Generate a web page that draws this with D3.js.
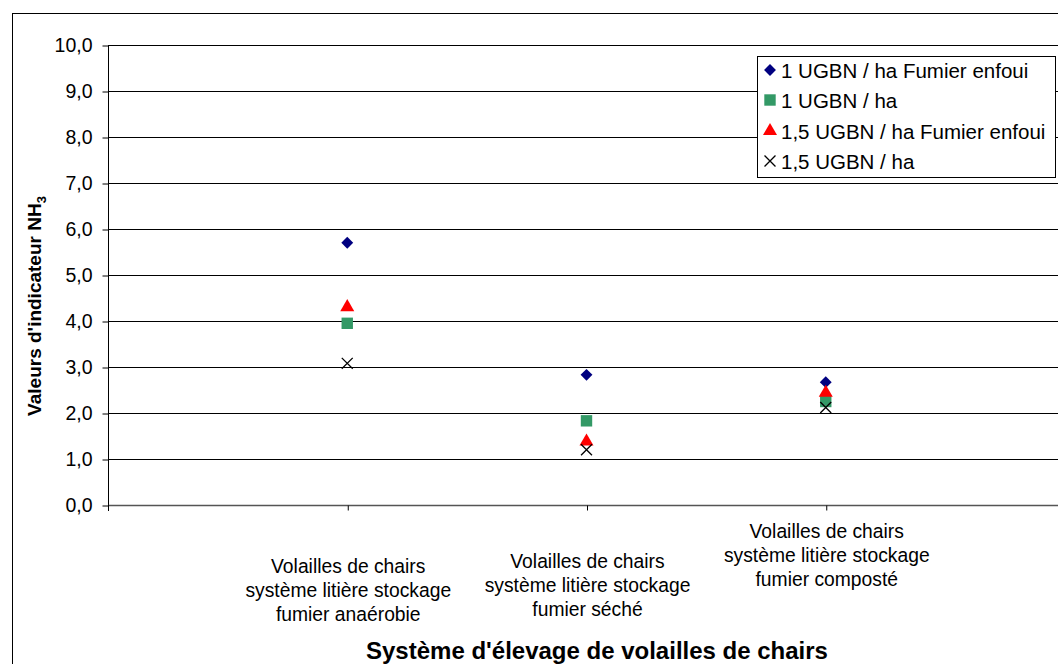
<!DOCTYPE html>
<html><head><meta charset="utf-8">
<script src="https://cdn.jsdelivr.net/npm/d3@7"></script>
<style>body{margin:0;background:#fff;} text{font-family:"Liberation Sans",Arial,sans-serif;}</style>
</head><body><svg id="c" width="1058" height="664"></svg>
<script>
const categories = [
  ["Volailles de chairs","système litière stockage","fumier anaérobie"],
  ["Volailles de chairs","système litière stockage","fumier séché"],
  ["Volailles de chairs","système litière stockage","fumier composté"]
];
const seriesNames = ["1 UGBN / ha Fumier enfoui","1 UGBN / ha","1,5 UGBN / ha Fumier enfoui","1,5 UGBN / ha"];
const s1 = [5.70, 2.83, 2.67];
const s2 = [3.95, 1.83, 2.25];
const s3 = [4.30, 1.38, 2.44];
const s4 = [3.08, 1.20, 2.12];
const yTicks = [0,1,2,3,4,5,6,7,8,9,10];
const labelOffsets = [0, -5, -35];

const svg = d3.select("#c");
const L = 108, R = 1065, T = 45, B = 505;
const x = d3.scalePoint().domain([0,1,2]).range([L,R]).padding(1);
const y = d3.scaleLinear().domain([0,10]).range([B,T]);

// outer frame
svg.append("rect").attr("x",12.5).attr("y",13.5).attr("width",1100).attr("height",700)
  .attr("fill","none").attr("stroke","#000").attr("stroke-width",1);

// gridlines
svg.append("g").selectAll("line").data(yTicks.filter(d=>d>0)).join("line")
  .attr("x1",L).attr("x2",R).attr("y1",d=>Math.round(y(d))+0.5).attr("y2",d=>Math.round(y(d))+0.5)
  .attr("stroke","#000").attr("stroke-width",1);

// y axis
const ya = svg.append("g").attr("transform",`translate(${L+0.5},0.5)`)
  .call(d3.axisLeft(y).tickValues(yTicks).tickSize(6).tickPadding(10).tickFormat(d=>d3.format(".1f")(d).replace(".",",")));
ya.select(".domain").attr("stroke","#000").attr("d",`M0,${B}V${T}`);
ya.selectAll(".tick line").attr("stroke","#000");
ya.selectAll("text").attr("font-size",19.5).attr("fill","#000").style("font-family","Liberation Sans, Arial, sans-serif");

// x axis
const xa = svg.append("g").attr("transform",`translate(0.5,${B+0.5})`)
  .call(d3.axisBottom(x).tickSize(5).tickFormat(""));
xa.select(".domain").attr("stroke","#555").attr("stroke-width",1.5).attr("d",`M${L},0H${R}`);
xa.selectAll(".tick line").attr("stroke","#000");
svg.append("line").attr("x1",L+0.5).attr("x2",L+0.5).attr("y1",B).attr("y2",B+6).attr("stroke","#000");

// category labels
categories.forEach((lines,i)=>{
  const t = svg.append("text").attr("text-anchor","middle").attr("font-size",19.3).attr("fill","#000");
  lines.forEach((ln,j)=>{
    t.append("tspan").attr("x",x(i)+1).attr("y",573+labelOffsets[i]+j*24).text(ln);
  });
});

// markers
const sym = {
  diamond: d3.symbol().type(d3.symbolDiamond2).size(90),
  square: d3.symbol().type(d3.symbolSquare).size(130),
  triangle: d3.symbol().type(d3.symbolTriangle).size(85),
  cross: d3.symbol().type(d3.symbolX).size(80)
};
const series = [
  {vals:s1, sym:sym.diamond, fill:"#000080", stroke:"none"},
  {vals:s2, sym:sym.square, fill:"#339966", stroke:"none"},
  {vals:s3, sym:sym.triangle, fill:"#FF0000", stroke:"none"},
  {vals:s4, sym:sym.cross, fill:"none", stroke:"#000"}
];
series.forEach(s=>{
  svg.append("g").selectAll("path").data(s.vals).join("path")
    .attr("transform",(d,i)=>`translate(${x(i)},${y(d)})`)
    .attr("d",s.sym()).attr("fill",s.fill).attr("stroke",s.stroke).attr("stroke-width",1.3);
});

// legend
const lg = svg.append("g");
lg.append("rect").attr("x",757.5).attr("y",56.5).attr("width",298).attr("height",121)
  .attr("fill","#fff").attr("stroke","#000");
const ly = [71, 101, 132, 162];
seriesNames.forEach((n,i)=>{
  const s = series[i];
  lg.append("path").attr("transform",`translate(770,${ly[i]-1})`).attr("d",s.sym())
    .attr("fill",s.fill).attr("stroke",s.stroke).attr("stroke-width",1.3);
  lg.append("text").attr("x",781).attr("y",ly[i]+7).attr("font-size",20.5).attr("fill","#000").text(n);
});

// axis titles
const yt = svg.append("text").attr("transform","translate(41,306) rotate(-90)")
  .attr("text-anchor","middle").attr("font-size",19).attr("font-weight","bold").attr("fill","#000");
yt.append("tspan").text("Valeurs d'indicateur NH");
yt.append("tspan").attr("font-size",13).attr("dy",5).text("3");

svg.append("text").attr("x",597).attr("y",659).attr("text-anchor","middle")
  .attr("font-size",24).attr("font-weight","bold").attr("fill","#000")
  .text("Système d'élevage de volailles de chairs");
</script></body></html>
